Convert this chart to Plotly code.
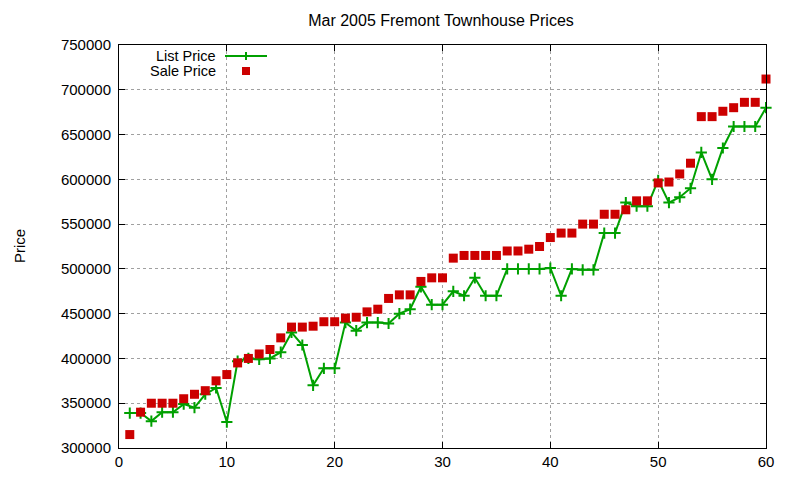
import plotly.graph_objects as go

days = list(range(1, 61))

list_price = [
    339000, 339000, 330000, 340000, 340000, 349000, 345000, 360000, 367000, 329000,
    397000, 400000, 399000, 400000, 407000, 429000, 415000, 370000, 389000, 389000,
    440000, 431000, 440000, 440000, 439000, 450000, 455000, 480000, 460000, 460000,
    475000, 470000, 490000, 470000, 470000, 500000, 500000, 500000, 500000, 501000,
    470000, 500000, 499000, 499000, 540000, 540000, 574000, 570000, 570000, 599000,
    574000, 580000, 590000, 630000, 600000, 635000, 659000, 659000, 659000, 680000,
]

sale_price = [
    315000, 340000, 350000, 350000, 350000, 355000, 360000, 364000, 375000, 382000,
    395000, 400000, 405000, 410000, 423000, 435000, 435000, 436000, 441000, 441000,
    445000, 446000, 452000, 455000, 467000, 471000, 471000, 486000, 490000, 490000,
    512000, 515000, 515000, 515000, 515000, 520000, 520000, 522000, 525000, 535000,
    540000, 540000, 550000, 550000, 561000, 561000, 566000, 576000, 576000, 596000,
    597000, 606000, 618000, 670000, 670000, 676000, 680000, 686000, 686000, 712000,
]

GREEN = "#00a000"
RED = "#cc0000"
FONT = "Liberation Sans, Arial, sans-serif"

# page has an 8px body margin, so the figure is laid out in shifted coordinates
OFF = 8
W, H = 800, 480
L, T = 119 - OFF, 45 - OFF
R = W - (766 - OFF)
B = H - (448 - OFF)
pw, ph = W - L - R, H - T - B


def px(x):
    return (x - OFF - L) / pw


def py(y):
    return (H - B - (y - OFF)) / ph


fig = go.Figure()
fig.add_trace(go.Scatter(
    x=days, y=list_price, name="List Price", mode="lines+markers",
    line=dict(color=GREEN, width=2),
    marker=dict(symbol="cross-thin", size=8, line=dict(color=GREEN, width=2)),
    cliponaxis=False, showlegend=False,
))
fig.add_trace(go.Scatter(
    x=days, y=sale_price, name="Sale Price", mode="markers",
    marker=dict(symbol="square", size=9, color=RED),
    cliponaxis=False, showlegend=False,
))

axis_common = dict(
    showline=True, linecolor="black", linewidth=1, mirror="allticks",
    ticks="inside", ticklen=6, tickcolor="black",
    showgrid=True, gridcolor="#a0a0a0", griddash="dot", gridwidth=1,
    zeroline=False, tickfont=dict(family=FONT, size=15, color="black"),
)

fig.update_xaxes(range=[0, 60], tick0=0, dtick=10, **axis_common)
fig.update_yaxes(range=[300000, 750000], tick0=300000, dtick=50000,
                 tickformat="d", ticklabelstandoff=4, **axis_common)

# legend drawn gnuplot-style: label on the left, sample on the right
for label, yy in [("List Price", 56), ("Sale Price", 71)]:
    fig.add_annotation(x=px(218), y=py(yy), xref="paper", yref="paper", text=label,
                       showarrow=False, xanchor="right", yanchor="middle",
                       font=dict(family=FONT, size=14.5, color="black"))

fig.add_shape(type="line", xref="paper", yref="paper",
              x0=px(225), x1=px(267), y0=py(56), y1=py(56),
              line=dict(color=GREEN, width=2))
fig.add_shape(type="line", xref="paper", yref="paper",
              x0=px(246), x1=px(246), y0=py(52), y1=py(60),
              line=dict(color=GREEN, width=2))
fig.add_shape(type="rect", xref="paper", yref="paper",
              x0=px(242), x1=px(250), y0=py(67), y1=py(75),
              line=dict(width=0), fillcolor=RED)

fig.add_annotation(x=px(8.5), y=py(246), xref="paper", yref="paper", text="Price",
                   showarrow=False, textangle=-90, xanchor="left", yanchor="middle",
                   font=dict(family=FONT, size=15, color="black"))

fig.update_layout(
    width=W, height=H,
    margin=dict(l=L, r=R, t=T, b=B),
    paper_bgcolor="white", plot_bgcolor="white",
    title=dict(text="Mar 2005 Fremont Townhouse Prices", x=(441 - OFF) / W,
               xanchor="center", xref="container",
               y=1 - (20 - OFF) / H, yanchor="middle",
               font=dict(family=FONT, size=16, color="black")),
    font=dict(family=FONT, size=15, color="black"),
)

fig.write_html("out.html")
